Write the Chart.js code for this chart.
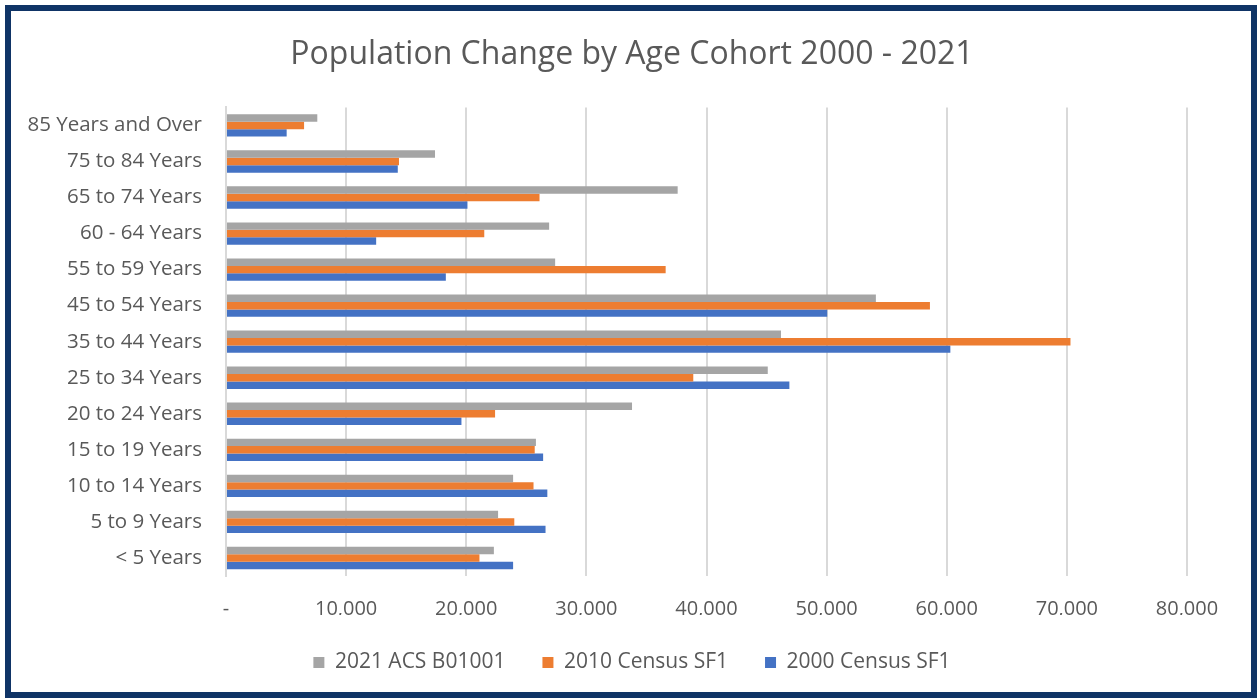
<!DOCTYPE html>
<html>
<head>
<meta charset="utf-8">
<script src="https://cdn.jsdelivr.net/npm/chart.js@4/dist/chart.umd.min.js"></script>
<style>
  html, body { margin: 0; padding: 0; background: #fff; }
  #wrap { position: relative; width: 1257px; height: 698px; }
  #frame {
    position: absolute; left: 5px; top: 5px; width: 1252px; height: 693px;
    box-sizing: border-box; border: 6px solid #0f3466; pointer-events: none;
  }
</style>
</head>
<body>
<div id="wrap">
  <canvas id="chart" width="1257" height="698"></canvas>
  <div id="frame"></div>
</div>
<script>
const ageCohorts = [
  '85 Years and Over', '75 to 84 Years', '65 to 74 Years', '60 - 64 Years',
  '55 to 59 Years', '45 to 54 Years', '35 to 44 Years', '25 to 34 Years',
  '20 to 24 Years', '15 to 19 Years', '10 to 14 Years', '5 to 9 Years', '< 5 Years',
]

const acs2021 = [ 7600, 17400, 37600, 26900, 27400, 54100, 46200, 45100, 33800, 25800, 23900, 22650, 22300 ]
const census2010 = [ 6500, 14400, 26100, 21500, 36600, 58600, 70300, 38900, 22400, 25700, 25600, 24000, 21100 ]
const census2000 = [ 5050, 14300, 20100, 12500, 18300, 50050, 60300, 46900, 19600, 26400, 26750, 26600, 23900 ]

const xTicks = [ 0, 10000, 20000, 30000, 40000, 50000, 60000, 70000, 80000 ]

const textColor = '#595959'
const gridColor = '#d9d9d9'
const fontFamily = '"Open Sans", Lato, sans-serif'

Chart.defaults.font.family = fontFamily
Chart.defaults.color = textColor

// thousands separator, zero shown as a dash like the original
const fmt = ( v ) => ( v === 0 ? '-' : String( v ).replace( /\B(?=(\d{3})+(?!\d))/g, ',' ) )

const config = {
  type: 'bar',
  data: {
    labels: ageCohorts,
    datasets: [
      { label: '2021 ACS B01001', data: acs2021, backgroundColor: '#a5a5a5' },
      { label: '2010 Census SF1', data: census2010, backgroundColor: '#ed7d31' },
      { label: '2000 Census SF1', data: census2000, backgroundColor: '#4472c4' },
    ],
  },
  options: {
    indexAxis: 'y',
    responsive: false,
    animation: false,
    events: [],
    layout: {
      padding: { left: 7, right: 0, top: 0, bottom: 15 },
    },
    datasets: {
      bar: {
        categoryPercentage: 0.62,
        barPercentage: 1,
      },
    },
    scales: {
      x: {
        min: 0,
        max: 80000,
        afterBuildTicks: ( scale ) => {
          scale.ticks = xTicks.map( ( value ) => ( { value } ) )
        },
        afterFit: ( scale ) => {
          // labels hang into the legend strip, as in the original
          scale.height = 39
          scale.paddingLeft = 0
          scale.paddingRight = 70
        },
        ticks: {
          padding: 21,
          font: { size: 20 },
          color: textColor,
          callback: fmt,
        },
        grid: { color: gridColor, lineWidth: 2, drawTicks: false },
        border: { display: false },
      },
      y: {
        afterFit: ( scale ) => {
          scale.width = 219
        },
        ticks: {
          padding: 24,
          font: { size: 20.5 },
          color: textColor,
        },
        grid: { display: false, drawTicks: false },
        border: { display: true, color: gridColor, width: 2 },
      },
    },
    plugins: {
      title: {
        display: true,
        text: 'Population Change by Age Cohort 2000 - 2021',
        color: textColor,
        font: { size: 32, weight: 'normal' },
        padding: { top: 36, bottom: 33 },
      },
      legend: {
        position: 'bottom',
        labels: {
          boxWidth: 11,
          boxHeight: 11,
          padding: 37,
          color: textColor,
          font: { size: 21 },
        },
      },
      tooltip: { enabled: false },
    },
  },
}

new Chart( document.getElementById( 'chart' ), config )
</script>
</body>
</html>
